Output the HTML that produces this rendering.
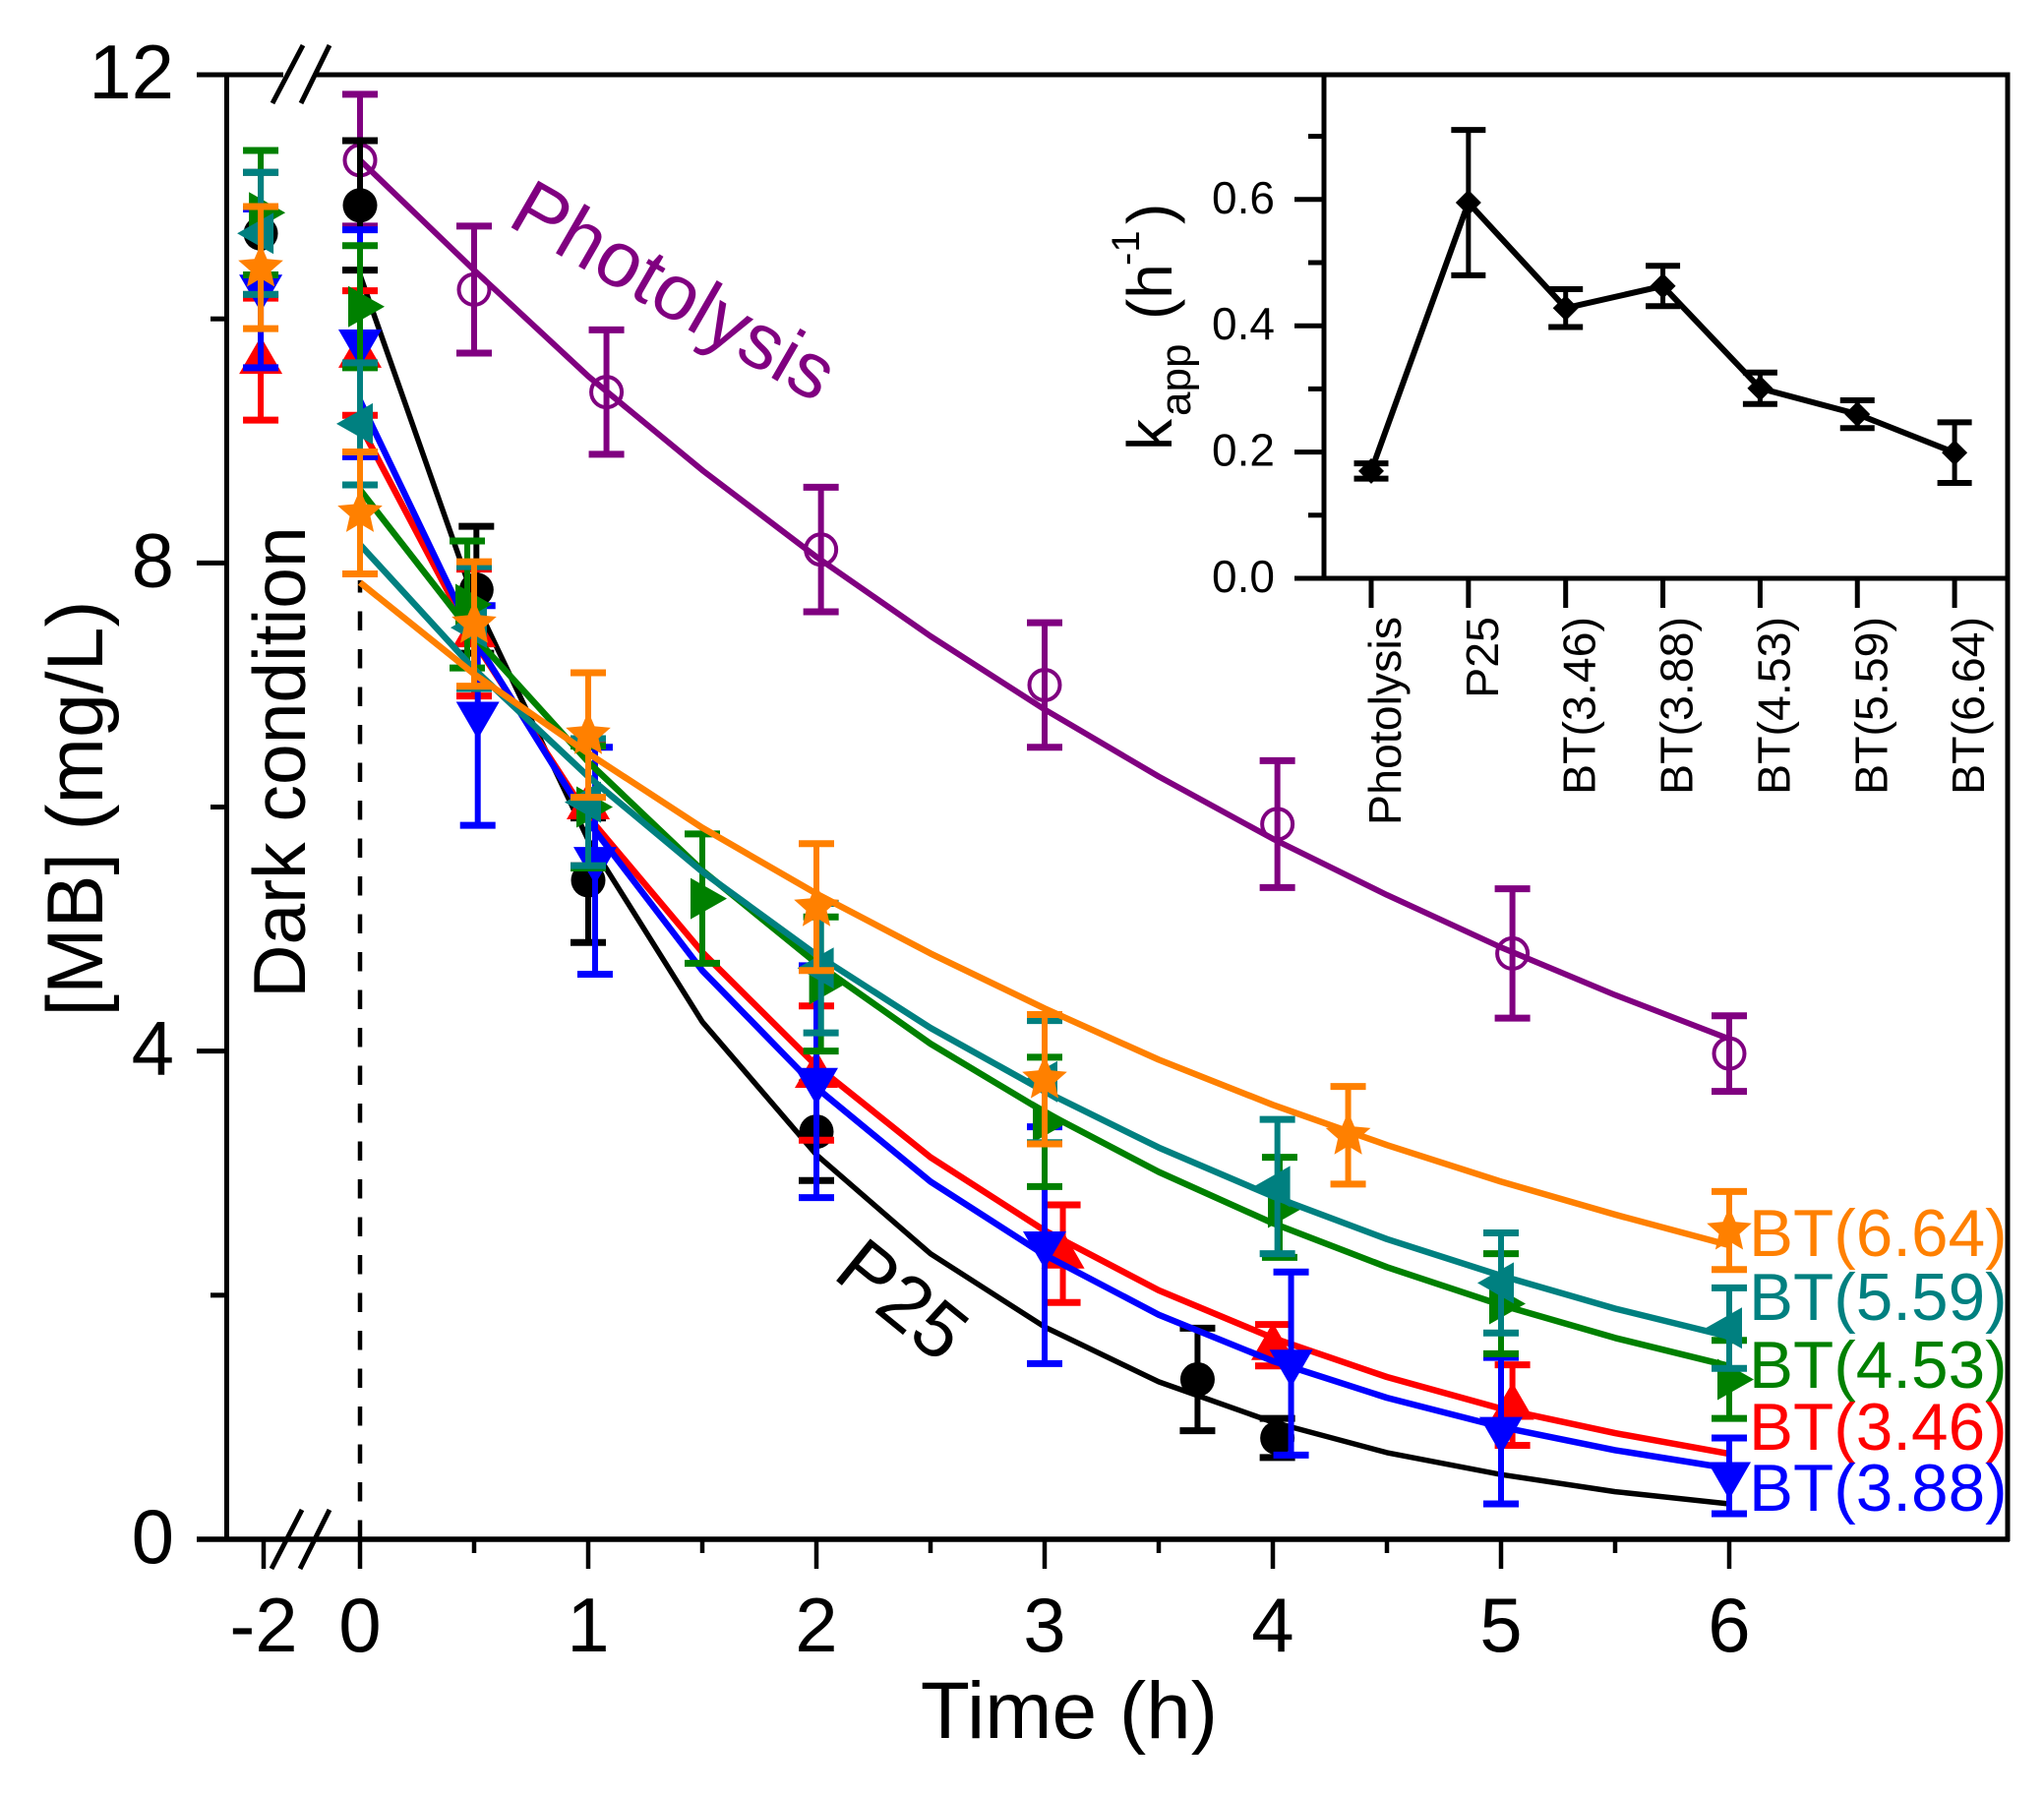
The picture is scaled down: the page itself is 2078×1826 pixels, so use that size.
<!DOCTYPE html>
<html lang="en">
<head>
<meta charset="utf-8">
<title>MB concentration versus time</title>
<style>
html,body{margin:0;padding:0;background:#fff;}
svg{display:block;}
text{font-family:"Liberation Sans",Arial,sans-serif;}
</style>
</head>
<body>
<svg id="chart" xmlns="http://www.w3.org/2000/svg" width="2078" height="1826" viewBox="0 0 2078 1826">
<rect x="0" y="0" width="2078" height="1826" fill="#ffffff"/>
<g id="main-marks"></g>
<g id="main-axes"></g>
<g id="inset"></g>
<text transform="translate(104,822) rotate(-90)" text-anchor="middle" font-size="81" fill="#000">[MB] (mg/L)</text>
<text x="1087" y="1767" text-anchor="middle" font-size="82" fill="#000">Time (h)</text>
<text transform="translate(310,775) rotate(-90)" text-anchor="middle" font-size="75" fill="#000">Dark condition</text>
<text transform="translate(514,228) rotate(30)" font-size="80" fill="#800080">Photolysis</text>
<text transform="translate(845,1298) rotate(39)" font-size="80" fill="#000">P25</text>
<text x="1778" y="1277" font-size="67.5" fill="#ff8000">BT(6.64)</text>
<text x="1778" y="1342" font-size="67.5" fill="#008080">BT(5.59)</text>
<text x="1778" y="1411" font-size="67.5" fill="#008000">BT(4.53)</text>
<text x="1778" y="1474" font-size="67.5" fill="#ff0000">BT(3.46)</text>
<text x="1778" y="1536" font-size="67.5" fill="#0000ff">BT(3.88)</text>
<g transform="translate(1191,458) rotate(-90)" fill="#000">
<text x="0" y="0" font-size="64">k</text>
<text x="35" y="19" font-size="44">app</text>
<text x="133" y="0" font-size="64">(h</text>
<text x="188" y="-33" font-size="40">-1</text>
<text x="230" y="0" font-size="64">)</text>
</g>
</svg>
<script>
const curveTimes = [0, 0.5, 1, 1.5, 2, 2.5, 3, 3.5, 4, 4.5, 5, 5.5, 6];
const photolysisCurve = [11.3, 10.4, 9.53, 8.76, 8.05, 7.4, 6.8, 6.25, 5.74, 5.28, 4.85, 4.46, 4.1];
const p25Curve = [10.36, 7.7, 5.73, 4.24, 3.15, 2.34, 1.74, 1.29, 0.96, 0.71, 0.53, 0.39, 0.29];
const bt346Curve = [9.13, 7.36, 5.92, 4.81, 3.88, 3.13, 2.53, 2.04, 1.65, 1.33, 1.07, 0.87, 0.7];
const bt388Curve = [9.33, 7.38, 5.88, 4.66, 3.7, 2.93, 2.33, 1.84, 1.46, 1.16, 0.92, 0.73, 0.58];
const bt453Curve = [8.6, 7.4, 6.37, 5.48, 4.72, 4.06, 3.5, 3.01, 2.59, 2.23, 1.92, 1.65, 1.42];
const bt559Curve = [8.15, 7.13, 6.25, 5.47, 4.79, 4.19, 3.67, 3.21, 2.81, 2.46, 2.16, 1.89, 1.66];
const bt664Curve = [7.84, 7.09, 6.44, 5.83, 5.29, 4.8, 4.35, 3.93, 3.56, 3.23, 2.93, 2.66, 2.41];

const photolysisTimes = [0, 0.5, 1.08, 2.02, 3, 4.02, 5.05, 6];
const photolysisValues = [11.3, 10.24, 9.4, 8.11, 7, 5.86, 4.8, 3.98];
const photolysisErrors = [0.54, 0.52, 0.51, 0.51, 0.51, 0.52, 0.53, 0.31];

const p25Times = [-2.06, 0, 0.51, 1, 2, 3.67, 4.02];
const p25Values = [10.7, 10.93, 7.78, 5.4, 3.34, 1.31, 0.83];
const p25Errors = [0.5, 0.53, 0.52, 0.51, 0.4, 0.42, 0.16];

const bt346Times = [-2.06, 0, 0.5, 1, 2, 3.08, 4, 5.05];
const bt346Values = [9.67, 9.72, 7.43, 6.02, 3.82, 2.34, 1.59, 1.1];
const bt346Errors = [0.5, 0.51, 0.52, 0.5, 0.55, 0.4, 0.17, 0.33];

const bt388Times = [-2.06, 0, 0.516, 1.03, 2, 3, 4.08, 5, 6];
const bt388Values = [10.25, 9.8, 6.75, 5.56, 3.75, 2.41, 1.44, 0.89, 0.52];
const bt388Errors = [0.65, 0.93, 0.9, 0.93, 0.95, 0.97, 0.75, 0.6, 0.31];

const bt453Times = [-2.06, 0, 0.47, 1, 1.5, 2.02, 3, 4.03, 5, 6];
const bt453Values = [10.87, 10.1, 7.66, 6, 5.25, 4.55, 3.42, 2.72, 1.93, 1.31];
const bt453Errors = [0.51, 0.5, 0.52, 0.5, 0.53, 0.55, 0.53, 0.41, 0.41, 0.32];

const bt559Times = [-2.06, 0, 0.5, 1, 2.02, 3, 4.02, 5, 6];
const bt559Values = [10.7, 9.14, 7.47, 6.04, 4.68, 3.75, 2.89, 2.1, 1.73];
const bt559Errors = [0.5, 0.5, 0.5, 0.52, 0.53, 0.5, 0.55, 0.41, 0.33];

const bt664Times = [-2.06, 0, 0.5, 1, 2, 3, 4.33, 6];
const bt664Values = [10.42, 8.41, 7.5, 6.59, 5.18, 3.77, 3.31, 2.53];
const bt664Errors = [0.5, 0.5, 0.51, 0.51, 0.52, 0.53, 0.4, 0.32];

const yMajorTicks = [0, 4, 8, 12];
const yMinorTicks = [2, 6, 10];
const xMajorTicks = [-2, 0, 1, 2, 3, 4, 5, 6];
const xMinorTicks = [0.5, 1.5, 2.5, 3.5, 4.5, 5.5];

const insetCategories = ['Photolysis', 'P25', 'BT(3.46)', 'BT(3.88)', 'BT(4.53)', 'BT(5.59)', 'BT(6.64)'];
const insetValues = [0.17, 0.595, 0.428, 0.463, 0.301, 0.26, 0.199];
const insetErrors = [0.012, 0.115, 0.03, 0.032, 0.025, 0.022, 0.048];
const insetYMajorTicks = [0, 0.2, 0.4, 0.6];
const insetYMinorTicks = [0.1, 0.3, 0.5, 0.7];

const SVGNS = 'http://www.w3.org/2000/svg';
const marksLayer = document.getElementById('main-marks');
const axesLayer = document.getElementById('main-axes');
const insetLayer = document.getElementById('inset');

function xMain(t) { return t < 0 ? 366 + 49 * t : 366 + 232 * t; }
function yMain(v) { return 1565 - v * 124.08; }
function xInset(i) { return 1394 + 98.85 * i; }
function yInset(v) { return 588 - 642 * v; }

function shape(tag, props) {
  const el = document.createElementNS(SVGNS, tag);
  Object.keys(props).forEach(function (k) { el.setAttribute(k, props[k]); });
  return el;
}

function addLine(parent, name, x1, y1, x2, y2, color, width, dash) {
  const el = shape('line', { x1: x1, y1: y1, x2: x2, y2: y2, stroke: color, 'stroke-width': width });
  if (dash) el.setAttribute('stroke-dasharray', dash);
  
  
  parent.appendChild(el);
  return el;
}

function addText(parent, name, x, y, str, size, anchor, transform) {
  const el = shape('text', { x: x, y: y, 'font-size': size, 'text-anchor': anchor, fill: '#000' });
  if (transform) el.setAttribute('transform', transform);
  el.textContent = str;
  
  
  parent.appendChild(el);
  return el;
}

function markerPoints(kind, cx, cy) {
  let offsets = [];
  if (kind === 'up') offsets = [[0, -23], [22, 15], [-22, 15]];
  if (kind === 'down') offsets = [[-22, -14], [22, -14], [0, 24]];
  if (kind === 'right') offsets = [[-12, -21], [25, 0], [-12, 21]];
  if (kind === 'left') offsets = [[13, -21], [-24, 0], [13, 21]];
  if (kind === 'star') {
    for (let i = 0; i < 10; i++) {
      const r = i % 2 === 0 ? 24 : 11;
      const a = -Math.PI / 2 + i * Math.PI / 5;
      offsets.push([r * Math.cos(a), r * Math.sin(a)]);
    }
  }
  return offsets.map(function (o) { return (cx + o[0]).toFixed(1) + ',' + (cy + o[1]).toFixed(1); }).join(' ');
}

function drawSeries(cfg) {
  const g = document.createElementNS(SVGNS, 'g');
  
  
  marksLayer.appendChild(g);

  const pts = cfg.curve.map(function (v, i) { return xMain(curveTimes[i]).toFixed(1) + ',' + yMain(v).toFixed(1); }).join(' ');
  const fit = shape('polyline', { points: pts, fill: 'none', stroke: cfg.color, 'stroke-width': cfg.lineWidth, 'stroke-linejoin': 'round' });
  
  
  g.appendChild(fit);

  cfg.times.forEach(function (t, i) {
    const x = xMain(t);
    const y = yMain(cfg.values[i]);
    const top = yMain(cfg.values[i] + cfg.errors[i]);
    const bottom = yMain(cfg.values[i] - cfg.errors[i]);
    addLine(g, cfg.name + '-error-bar', x, top, x, bottom, cfg.color, 6);
    addLine(g, cfg.name + '-error-cap-top', x - 18, top, x + 18, top, cfg.color, 7);
    addLine(g, cfg.name + '-error-cap-bottom', x - 18, bottom, x + 18, bottom, cfg.color, 7);
    let mark;
    if (cfg.marker === 'dot') {
      mark = shape('circle', { cx: x, cy: y, r: 17.5, fill: cfg.color });
    } else if (cfg.marker === 'ring') {
      mark = shape('circle', { cx: x, cy: y, r: 15.5, fill: 'none', stroke: cfg.color, 'stroke-width': 4 });
    } else {
      mark = shape('polygon', { points: markerPoints(cfg.marker, x, y), fill: cfg.color });
    }
    
    
    g.appendChild(mark);
  });
}

addLine(marksLayer, 'dark-condition-divider', 366, 1565, 366, 590, '#000', 4.5, '19.5 19');

drawSeries({ name: 'photolysis', color: '#800080', lineWidth: 6, marker: 'ring', curve: photolysisCurve, times: photolysisTimes, values: photolysisValues, errors: photolysisErrors });
drawSeries({ name: 'p25', color: '#000000', lineWidth: 5.5, marker: 'dot', curve: p25Curve, times: p25Times, values: p25Values, errors: p25Errors });
drawSeries({ name: 'bt-3-46', color: '#ff0000', lineWidth: 6.5, marker: 'up', curve: bt346Curve, times: bt346Times, values: bt346Values, errors: bt346Errors });
drawSeries({ name: 'bt-3-88', color: '#0000ff', lineWidth: 6.5, marker: 'down', curve: bt388Curve, times: bt388Times, values: bt388Values, errors: bt388Errors });
drawSeries({ name: 'bt-4-53', color: '#008000', lineWidth: 6.5, marker: 'right', curve: bt453Curve, times: bt453Times, values: bt453Values, errors: bt453Errors });
drawSeries({ name: 'bt-5-59', color: '#008080', lineWidth: 6.5, marker: 'left', curve: bt559Curve, times: bt559Times, values: bt559Values, errors: bt559Errors });
drawSeries({ name: 'bt-6-64', color: '#ff8000', lineWidth: 6.5, marker: 'star', curve: bt664Curve, times: bt664Times, values: bt664Values, errors: bt664Errors });

/* main axes */
addLine(axesLayer, 'left-axis', 230.5, 74, 230.5, 1567, '#000', 5);
addLine(axesLayer, 'right-axis', 2041, 74, 2041, 1567, '#000', 5);
addLine(axesLayer, 'top-axis-left', 200, 76, 288, 76, '#000', 5);
addLine(axesLayer, 'top-axis-right', 322, 76, 2043, 76, '#000', 5);
addLine(axesLayer, 'bottom-axis', 200, 1565, 2043, 1565, '#000', 5.5);
addLine(axesLayer, 'top-break-mark-left', 277, 105, 308, 46, '#000', 5);
addLine(axesLayer, 'top-break-mark-right', 306, 105, 335, 46, '#000', 5);
addLine(axesLayer, 'bottom-break-mark-left', 276, 1595, 307, 1535, '#000', 5);
addLine(axesLayer, 'bottom-break-mark-right', 305, 1595, 335, 1535, '#000', 5);

yMajorTicks.forEach(function (v) {
  if (v !== 0 && v !== 12) addLine(axesLayer, 'y-major-tick', 200, yMain(v), 230, yMain(v), '#000', 5);
  addText(axesLayer, 'y-tick-label', 177, yMain(v) + 24, String(v), 78, 'end');
});
yMinorTicks.forEach(function (v) {
  addLine(axesLayer, 'y-minor-tick', 214, yMain(v), 230, yMain(v), '#000', 5);
});
xMajorTicks.forEach(function (t) {
  addLine(axesLayer, 'x-major-tick', xMain(t), 1565, xMain(t), 1595, '#000', 4.5);
  addText(axesLayer, 'x-tick-label', xMain(t), 1679, String(t), 78, 'middle');
});
xMinorTicks.forEach(function (t) {
  addLine(axesLayer, 'x-minor-tick', xMain(t), 1565, xMain(t), 1579, '#000', 4.5);
});

/* inset */
const insetFrame = shape('rect', { x: 1346, y: 76, width: 695, height: 512, fill: '#ffffff', stroke: '#000', 'stroke-width': 5 });


insetLayer.appendChild(insetFrame);
addLine(insetLayer, 'inset-bottom-axis-extension', 1316, 588, 1346, 588, '#000', 5);

insetYMajorTicks.forEach(function (v) {
  if (v !== 0) addLine(insetLayer, 'inset-y-major-tick', 1316, yInset(v), 1346, yInset(v), '#000', 5);
  addText(insetLayer, 'inset-y-tick-label', 1296, yInset(v) + 14, v.toFixed(1), 46, 'end');
});
insetYMinorTicks.forEach(function (v) {
  addLine(insetLayer, 'inset-y-minor-tick', 1330, yInset(v), 1346, yInset(v), '#000', 5);
});
insetCategories.forEach(function (c, i) {
  const x = xInset(i);
  addLine(insetLayer, 'inset-x-tick', x, 588, x, 618, '#000', 5);
  addText(insetLayer, 'inset-x-tick-label', 0, 0, c, 46.5, 'end', 'translate(' + (x + 30) + ',627) rotate(-90)');
});

const insetPts = insetValues.map(function (v, i) { return xInset(i).toFixed(1) + ',' + yInset(v).toFixed(1); }).join(' ');
const insetLine = shape('polyline', { points: insetPts, fill: 'none', stroke: '#000', 'stroke-width': 6 });


insetLayer.appendChild(insetLine);

insetValues.forEach(function (v, i) {
  const x = xInset(i);
  const y = yInset(v);
  const top = yInset(v + insetErrors[i]);
  const bottom = yInset(v - insetErrors[i]);
  addLine(insetLayer, 'inset-error-bar', x, top, x, bottom, '#000', 5);
  addLine(insetLayer, 'inset-error-cap-top', x - 17.5, top, x + 17.5, top, '#000', 6);
  addLine(insetLayer, 'inset-error-cap-bottom', x - 17.5, bottom, x + 17.5, bottom, '#000', 6);
  const d = shape('polygon', { points: x + ',' + (y - 13) + ' ' + (x + 13) + ',' + y + ' ' + x + ',' + (y + 13) + ' ' + (x - 13) + ',' + y, fill: '#000' });
  
  
  insetLayer.appendChild(d);
});
</script>
</body>
</html>
